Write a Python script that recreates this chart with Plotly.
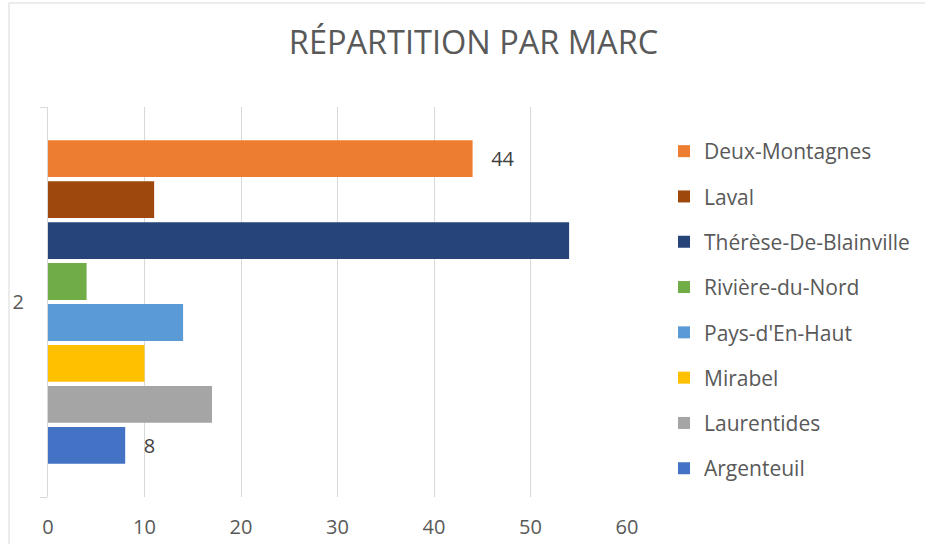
import plotly.graph_objects as go

category = ["2"]
# listed top to bottom, as in the legend
series_names = ["Deux-Montagnes", "Laval", "Thérèse-De-Blainville", "Rivière-du-Nord",
                "Pays-d'En-Haut", "Mirabel", "Laurentides", "Argenteuil"]
series_values = [44, 11, 54, 4, 14, 10, 17, 8]
series_colors = ["#ED7D31", "#9E480E", "#264478", "#70AD47",
                 "#5B9BD5", "#FFC000", "#A5A5A5", "#4472C4"]
labelled = ["Argenteuil", "Deux-Montagnes"]
x_ticks = [0, 10, 20, 30, 40, 50, 60]

FONT = "Open Sans"
GRAY = "#595959"

fig = go.Figure()
for name, val, col in zip(series_names, series_values, series_colors):
    show = name in labelled
    fig.add_trace(go.Bar(
        y=category, x=[val], name=name, orientation="h",
        marker=dict(color=col, line=dict(width=0)),
        text=[f"   {val}"] if show else None,
        textposition="outside" if show else "none",
        textfont=dict(family=FONT, size=20, color="#404040"),
        cliponaxis=False,
        legendgroup=name,
    ))

W, H = 925, 544
L, R, T, B = 48, 298, 107, 47
pw, ph = W - L - R, H - T - B

fig.update_layout(
    width=W, height=H,
    margin=dict(l=L, r=R, t=T, b=B, autoexpand=False),
    paper_bgcolor="white", plot_bgcolor="white",
    barmode="group", bargap=0.16, bargroupgap=0.1,
    font=dict(family=FONT, color=GRAY, size=20),
    title=dict(text="RÉPARTITION PAR MARC", x=473.5 / W, xanchor="center",
               y=1 - 43 / H, yanchor="middle",
               font=dict(family=FONT, size=32.5, color=GRAY)),
    showlegend=True,
    legend=dict(traceorder="grouped", tracegroupgap=15,
                x=(664 - L) / pw, xanchor="left", y=1 - (131 - T) / ph, yanchor="top",
                font=dict(family=FONT, size=21, color=GRAY),
                itemwidth=30, bgcolor="rgba(0,0,0,0)"),
    xaxis=dict(range=[0, 60], tickvals=x_ticks, showgrid=True, gridcolor="#d9d9d9",
               gridwidth=1, zeroline=False, showline=False, ticks="", automargin=False,
               ticklabelstandoff=16, tickfont=dict(size=20, color=GRAY)),
    yaxis=dict(type="category", autorange="reversed", showline=True,
               linecolor="#d9d9d9", linewidth=1,
               ticks="outside", tickson="boundaries", ticklen=7, tickcolor="#d9d9d9",
               showgrid=False, ticklabelstandoff=19, automargin=False,
               tickfont=dict(size=20, color=GRAY)),
    shapes=[dict(type="rect", xref="paper", yref="paper",
                 x0=(9 - L) / pw, x1=(W + 5 - L) / pw,
                 y0=(H - B - (H + 5)) / ph, y1=(H - B - 3) / ph,
                 line=dict(color="#d9d9d9", width=1), fillcolor="rgba(0,0,0,0)",
                 layer="below")],
)

fig.write_html("out.html", config={"displayModeBar": False},
               post_script="document.body.style.margin='0';document.body.style.overflow='hidden';")
